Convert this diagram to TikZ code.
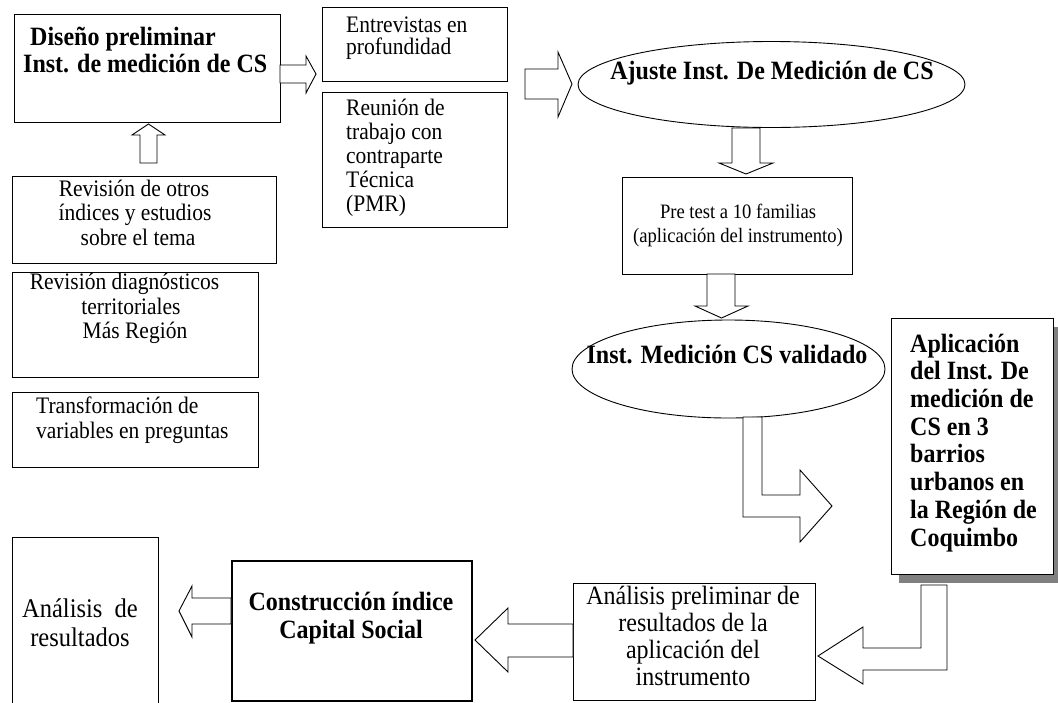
\documentclass[tikz,border=0pt]{standalone}
\usepackage{fontspec}
\setmainfont{Liberation Serif}
\usetikzlibrary{shapes.geometric}
\newcommand\myfs[2]{\fontsize{#1}{#2}\selectfont}
\newcommand\vs[1]{\scalebox{1}[1.1]{#1}}
\tikzset{
  box/.style={draw, line width=0.9pt, inner sep=0pt, anchor=north west, fill=white},
  oval/.style={draw, ellipse, line width=0.9pt, inner sep=0pt},
  barrow/.style={draw, line width=0.9pt, fill=white, line join=miter},
  B/.style={font=\myfs{24}{27}\bfseries, inner sep=0pt},
  R/.style={font=\myfs{21.5}{23.5}, inner sep=0pt},
  RS/.style={font=\myfs{18.6}{22}, inner sep=0pt},
  RL/.style={font=\myfs{24}{27}, inner sep=0pt},
}
\begin{document}
\begin{tikzpicture}[x=1pt,y=-1pt]
\useasboundingbox (0,0) rectangle (1058,702);
\clip (0,0) rectangle (1058,702);

% ---------- boxes ----------
\node[box, minimum width=266, minimum height=108] (dis) at (14,14) {};
\node[box, minimum width=185, minimum height=74] (ent) at (322,7) {};
\node[box, minimum width=185, minimum height=135] (reu) at (322,92) {};
\node[box, minimum width=264, minimum height=87] (rot) at (12,176) {};
\node[box, minimum width=246, minimum height=105] (rdi) at (12,272) {};
\node[box, minimum width=246, minimum height=75] (tra) at (12,392) {};
\node[box, minimum width=230, minimum height=97] (pre) at (622,177) {};
\fill[gray] (899,327) rectangle (1066,583);
\node[box, minimum width=162, minimum height=256] (apl) at (891,318) {};
\node[box, line width=1.4pt, minimum width=242, minimum height=117] (anp) at (573,583) {};
\node[box, line width=2.2pt, minimum width=240, minimum height=140] (con) at (231,560) {};
\node[box, minimum width=146, minimum height=190] (anr) at (12,537) {};

% ---------- ellipses ----------
\node[oval, minimum width=387, minimum height=86] (aju) at (771.5,84.5) {};
\node[oval, minimum width=313, minimum height=98] (val) at (728.5,369) {};

% ---------- block arrows ----------
\draw[barrow] (280,65) -- (306,65) -- (306,56) -- (316,74) -- (306,93) -- (306,83) -- (280,83) -- cycle;
\draw[barrow] (525,69) -- (558,69) -- (558,52) -- (572,84) -- (558,117) -- (558,99) -- (525,99) -- cycle;
\draw[barrow] (732,128) -- (732,163) -- (719,163) -- (746,174) -- (773,163) -- (760,163) -- (760,128) -- cycle;
\draw[barrow] (707,274) -- (707,306) -- (695,306) -- (721.5,318) -- (748,306) -- (735,306) -- (735,274) -- cycle;
\draw[barrow] (140,163) -- (140,135) -- (132,135) -- (148.5,124) -- (165,135) -- (157,135) -- (157,163) -- cycle;
\draw[barrow] (743,417) -- (762,417) -- (762,495) -- (800,495) -- (800,470) -- (832,506) -- (800,542) -- (800,517) -- (743,517) -- cycle;
\draw[barrow] (921,585) -- (947,585) -- (947,670) -- (863,670) -- (863,684) -- (818,656) -- (863,627) -- (863,648) -- (921,648) -- cycle;
\draw[barrow] (573,624) -- (508,624) -- (508,608) -- (475,640) -- (508,672) -- (508,657) -- (573,657) -- cycle;
\draw[barrow] (231,598) -- (192,598) -- (192,586) -- (179,611) -- (192,637) -- (192,624) -- (231,624) -- cycle;

% ---------- texts ----------
\node[B, anchor=base west] (d1) at (30,45) {\vs{Diseño preliminar}};
\node[B, anchor=base west] (d2) at (23,72) {\vs{Inst. de medición de CS}};

\node[R, anchor=base west] (en1) at (346,32) {\vs{Entrevistas en}};
\node[R, anchor=base west] (en2) at (346,54) {\vs{profundidad}};

\node[R, anchor=base west] (re1) at (346,115) {\vs{Reunión de}};
\node[R, anchor=base west] (re2) at (346,139) {\vs{trabajo con}};
\node[R, anchor=base west] (re3) at (346,163) {\vs{contraparte}};
\node[R, anchor=base west] (re4) at (346,187) {\vs{Técnica}};
\node[R, anchor=base west] (re5) at (346,211) {\vs{(PMR)}};

\node[B, anchor=base] (aj1) at (772,79) {\vs{Ajuste Inst. De Medición de CS}};

\node[RS, anchor=base] (pt1) at (738,218) {\vs{Pre test a 10 familias}};
\node[RS, anchor=base] (pt2) at (738,242) {\vs{(aplicación del instrumento)}};

\node[B, anchor=base] (va1) at (727,363) {\vs{Inst. Medición CS validado}};

\node[R, anchor=base] (ro1) at (134,196) {\vs{Revisión de otros}};
\node[R, anchor=base] (ro2) at (135,220) {\vs{índices y estudios}};
\node[R, anchor=base] (ro3) at (138,245) {\vs{sobre el tema}};

\node[R, anchor=base] (rd1) at (124.5,289) {\vs{Revisión diagnósticos}};
\node[R, anchor=base] (rd2) at (131,314) {\vs{territoriales}};
\node[R, anchor=base] (rd3) at (135,338) {\vs{Más Región}};

\node[R, anchor=base west] (tv1) at (36,413) {\vs{Transformación de}};
\node[R, anchor=base west] (tv2) at (36,438) {\vs{variables en preguntas}};

\node[B, anchor=base west] (a1) at (910,352) {\vs{Aplicación}};
\node[B, anchor=base west] (a2) at (910,379.7) {\vs{del Inst. De}};
\node[B, anchor=base west] (a3) at (910,407.4) {\vs{medición de}};
\node[B, anchor=base west] (a4) at (910,435.1) {\vs{CS en 3}};
\node[B, anchor=base west] (a5) at (910,462.8) {\vs{barrios}};
\node[B, anchor=base west] (a6) at (910,490.5) {\vs{urbanos en}};
\node[B, anchor=base west] (a7) at (910,518.2) {\vs{la Región de}};
\node[B, anchor=base west] (a8) at (910,546) {\vs{Coquimbo}};

\node[RL, anchor=base] (ap1) at (693,604) {\vs{Análisis preliminar de}};
\node[RL, anchor=base] (ap2) at (693,631) {\vs{resultados de la}};
\node[RL, anchor=base] (ap3) at (693,658) {\vs{aplicación del}};
\node[RL, anchor=base] (ap4) at (693,685) {\vs{instrumento}};

\node[B, anchor=base] (c1) at (351,610) {\vs{Construcción índice}};
\node[B, anchor=base] (c2) at (351,638) {\vs{Capital Social}};

\node[RL, anchor=base, font=\myfs{24.5}{28}] (ar1) at (80,617) {\vs{Análisis\ \ de}};
\node[RL, anchor=base, font=\myfs{24.5}{28}] (ar2) at (80,646) {\vs{resultados}};
\end{tikzpicture}
\end{document}
